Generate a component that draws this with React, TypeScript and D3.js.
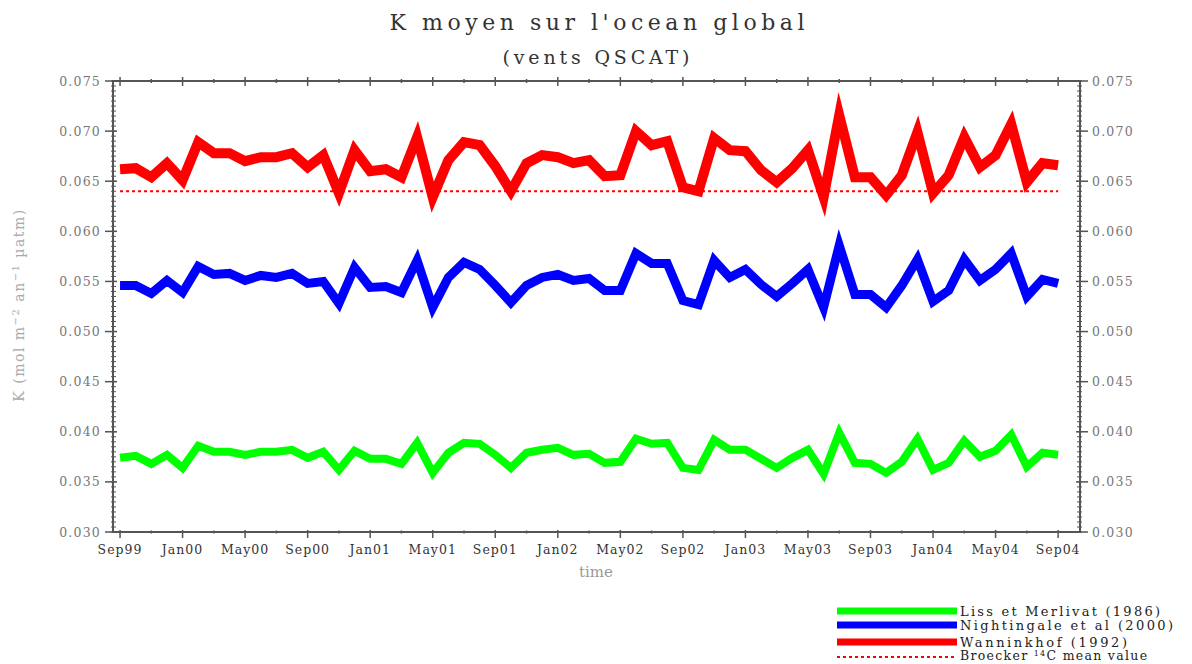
import React from "react";
import * as d3 from "d3";

const W = 1192;
const H = 664;

const xLabels = ["Sep99","Jan00","May00","Sep00","Jan01","May01","Sep01","Jan02","May02","Sep02","Jan03","May03","Sep03","Jan04","May04","Sep04"];
const yTicks = [0.030,0.035,0.040,0.045,0.050,0.055,0.060,0.065,0.070,0.075];

const liss = [0.0374,0.0376,0.0368,0.0377,0.0364,0.0386,0.0380,0.0380,0.0377,0.0380,0.0380,0.0382,0.0374,0.0380,0.0362,0.0381,0.0373,0.0373,0.0368,0.0389,0.0359,0.0379,0.0389,0.0388,0.0377,0.0364,0.0379,0.0382,0.0384,0.0377,0.0378,0.0369,0.0370,0.0393,0.0388,0.0389,0.0364,0.0362,0.0392,0.0382,0.0382,0.0373,0.0364,0.0374,0.0382,0.0358,0.0399,0.0369,0.0368,0.0359,0.0370,0.0393,0.0362,0.0369,0.0391,0.0375,0.0381,0.0397,0.0365,0.0379,0.0377];
const nightingale = [0.0546,0.0546,0.0538,0.0551,0.0539,0.0565,0.0557,0.0558,0.0551,0.0556,0.0554,0.0558,0.0548,0.0550,0.0528,0.0564,0.0544,0.0545,0.0539,0.0571,0.0524,0.0554,0.0569,0.0562,0.0546,0.0529,0.0546,0.0554,0.0557,0.0551,0.0553,0.0541,0.0541,0.0578,0.0568,0.0568,0.0531,0.0527,0.0571,0.0554,0.0562,0.0547,0.0535,0.0548,0.0562,0.0524,0.0586,0.0537,0.0537,0.0524,0.0546,0.0572,0.0530,0.0541,0.0572,0.0551,0.0562,0.0578,0.0535,0.0552,0.0548];
const wanninkhof = [0.0662,0.0663,0.0654,0.0668,0.0651,0.0689,0.0678,0.0678,0.0670,0.0674,0.0674,0.0678,0.0664,0.0676,0.0638,0.0681,0.0660,0.0662,0.0654,0.0694,0.0634,0.0671,0.0689,0.0686,0.0665,0.0640,0.0668,0.0676,0.0674,0.0668,0.0671,0.0655,0.0656,0.0700,0.0686,0.0690,0.0644,0.0640,0.0693,0.0681,0.0680,0.0661,0.0649,0.0663,0.0681,0.0634,0.0716,0.0654,0.0654,0.0636,0.0656,0.0699,0.0638,0.0656,0.0694,0.0664,0.0676,0.0707,0.0649,0.0668,0.0666];
const broecker = 0.064;

const series = [
  { name: "Liss et Merlivat (1986)", values: liss, color: "#00ff00", width: 8 },
  { name: "Nightingale et al (2000)", values: nightingale, color: "#0000ff", width: 9 },
  { name: "Wanninkhof (1992)", values: wanninkhof, color: "#ff0000", width: 10 },
];

const L = 113, R = 1080, T = 81, B = 532;
const x = d3.scaleLinear().domain([-0.45, 61.4]).range([L, R]);
const y = d3.scaleLinear().domain([0.030, 0.075]).range([B, T]);
const fmt = d3.format(".3f");
const FONT = "'DejaVu Serif', serif";
const AX = "#555";

export default function App() {
  const line = d3.line<number>().x((_, i) => x(i)).y((d) => y(d));
  const minorY = d3.range(0.030, 0.07501, 0.0005);
  const xTickIdx = d3.range(0, 61, 2);

  const legendY = [611, 625, 642];
  return (
    <svg width={W} height={H} style={{ position: "absolute", left: 0, top: 0, background: "#fff" }}>
      <text x={597} y={30} textAnchor="middle" fontFamily={FONT} fontSize={22} fill="#333" textLength={415} lengthAdjust="spacing">K moyen sur l'ocean global</text>
      <text x={596} y={64} textAnchor="middle" fontFamily={FONT} fontSize={19} fill="#333" textLength={187} lengthAdjust="spacing">(vents QSCAT)</text>

      {/* frame */}
      <rect x={L} y={T} width={R - L} height={B - T} fill="none" stroke={AX} strokeWidth={2} />

      {/* y ticks minor */}
      {minorY.map((v, i) => (
        <g key={"my" + i}>
          <line x1={L - 2} x2={L + 3} y1={y(v)} y2={y(v)} stroke={AX} strokeWidth={1} />
          <line x1={R - 3} x2={R + 2} y1={y(v)} y2={y(v)} stroke={AX} strokeWidth={1} />
        </g>
      ))}
      {yTicks.map((v) => (
        <g key={"y" + v}>
          <line x1={L - 8} x2={L + 4} y1={y(v)} y2={y(v)} stroke={AX} strokeWidth={1.5} />
          <line x1={R - 4} x2={R + 8} y1={y(v)} y2={y(v)} stroke={AX} strokeWidth={1.5} />
          <text x={101} y={y(v) + 4.5} textAnchor="end" fontFamily={FONT} fontSize={12.5} fill="#777" letterSpacing={1.2}>{fmt(v)}</text>
          <text x={1092} y={y(v) + 4.5} textAnchor="start" fontFamily={FONT} fontSize={12.5} fill="#777" letterSpacing={1.2}>{fmt(v)}</text>
        </g>
      ))}

      {/* x ticks */}
      {xTickIdx.map((i) => {
        const major = i % 4 === 0;
        return (
          <g key={"x" + i}>
            <line x1={x(i)} x2={x(i)} y1={major ? B - 2 : B - 1.5} y2={major ? B + 6 : B + 1.5} stroke={AX} strokeWidth={1.5} />
            <line x1={x(i)} x2={x(i)} y1={major ? T - 4 : T - 2} y2={major ? T + 5 : T + 2} stroke={AX} strokeWidth={1.5} />
          </g>
        );
      })}
      {xLabels.map((lab, k) => (
        <text key={lab} x={x(k * 4)} y={554} textAnchor="middle" fontFamily={FONT} fontSize={12.5} fill="#333" letterSpacing={1}>{lab}</text>
      ))}

      <text x={596} y={577} textAnchor="middle" fontFamily={FONT} fontSize={15} fill="#999">time</text>
      <text transform="translate(24,305) rotate(-90)" textAnchor="middle" fontFamily={FONT} fontSize={14} fill="#aaa" letterSpacing={1.5}>
        K (mol m<tspan baselineShift="super" fontSize={10}>−2</tspan> an<tspan baselineShift="super" fontSize={10}>−1</tspan> µatm)
      </text>

      {/* broecker */}
      <line x1={x(0)} x2={x(60)} y1={y(broecker)} y2={y(broecker)} stroke="#ff0000" strokeWidth={2} strokeDasharray="3,3" />

      {/* series */}
      {series.map((s) => (
        <path key={s.name} d={line(s.values) || ""} fill="none" stroke={s.color} strokeWidth={s.width} strokeLinejoin="miter" strokeMiterlimit={6} />
      ))}

      {/* legend */}
      {series.map((s, k) => (
        <g key={"lg" + k}>
          <line x1={837} x2={957} y1={legendY[k]} y2={legendY[k]} stroke={s.color} strokeWidth={7} />
          <text x={960} y={legendY[k] + 5} fontFamily={FONT} fontSize={13} fill="#222" textLength={[200, 213, 167][k]} lengthAdjust="spacing">{s.name}</text>
        </g>
      ))}
      <line x1={837} x2={957} y1={657} y2={657} stroke="#ff0000" strokeWidth={2} strokeDasharray="3,3" />
      <text x={960} y={660} fontFamily={FONT} fontSize={12.5} fill="#222" letterSpacing={1.3}>
        Broecker <tspan baselineShift="super" fontSize={8}>14</tspan>C mean value
      </text>
    </svg>
  );
}
